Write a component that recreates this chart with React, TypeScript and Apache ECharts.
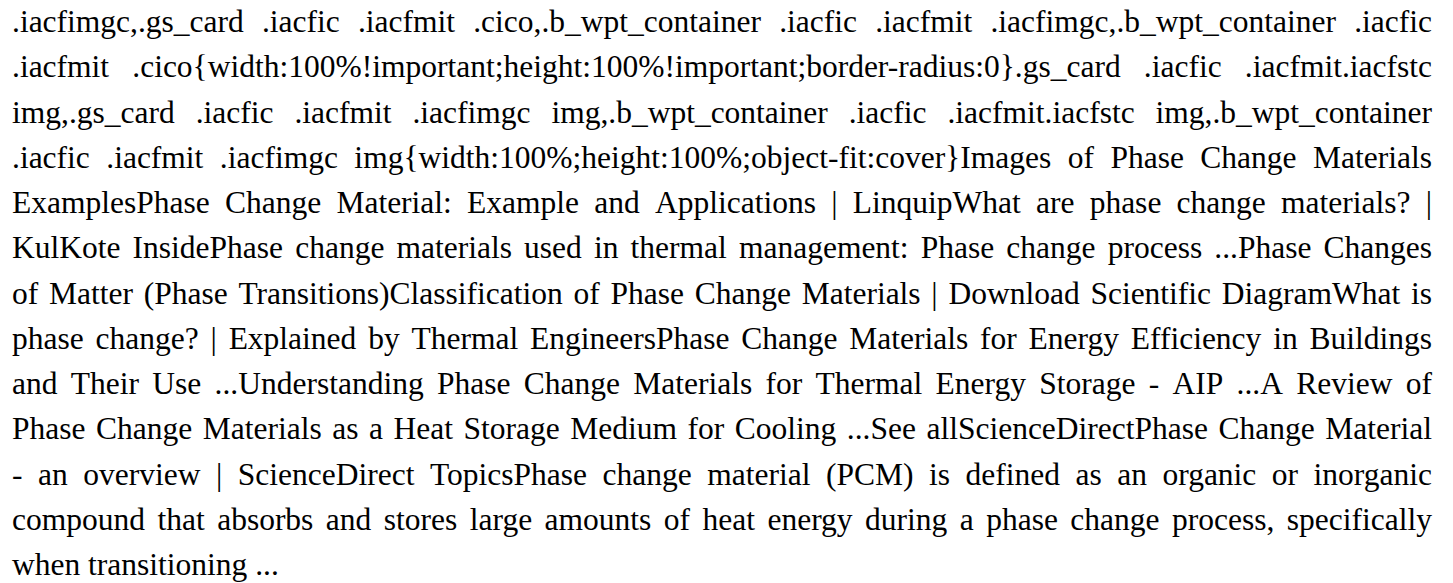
import React, { useEffect, useRef } from "react";
import * as echarts from "echarts";

const lines: string[] = [
  ".iacfimgc,.gs_card .iacfic .iacfmit .cico,.b_wpt_container .iacfic .iacfmit .iacfimgc,.b_wpt_container .iacfic",
  ".iacfmit .cico{width:100%!important;height:100%!important;border-radius:0}.gs_card .iacfic .iacfmit.iacfstc",
  "img,.gs_card .iacfic .iacfmit .iacfimgc img,.b_wpt_container .iacfic .iacfmit.iacfstc img,.b_wpt_container",
  ".iacfic .iacfmit .iacfimgc img{width:100%;height:100%;object-fit:cover}Images of Phase Change Materials",
  "ExamplesPhase Change Material: Example and Applications | LinquipWhat are phase change materials? |",
  "KulKote InsidePhase change materials used in thermal management: Phase change process ...Phase Changes",
  "of Matter (Phase Transitions)Classification of Phase Change Materials | Download Scientific DiagramWhat is",
  "phase change? | Explained by Thermal EngineersPhase Change Materials for Energy Efficiency in Buildings",
  "and Their Use ...Understanding Phase Change Materials for Thermal Energy Storage - AIP ...A Review of",
  "Phase Change Materials as a Heat Storage Medium for Cooling ...See allScienceDirectPhase Change Material",
  "- an overview | ScienceDirect TopicsPhase change material (PCM) is defined as an organic or inorganic",
  "compound that absorbs and stores large amounts of heat energy during a phase change process, specifically",
  "when transitioning ...",
];

const FONT_FAMILY = "Liberation Serif";
const FONT_SIZE = 31.5;
const LEFT = 12;
const RIGHT = 1432;
const FIRST_MID = 21.5;
const LINE_HEIGHT = 45.25;

export default function App() {
  const ref = useRef<HTMLDivElement>(null);
  useEffect(() => {
    if (!ref.current) return;
    const chart = echarts.init(ref.current, null, { renderer: "svg" });
    const ctx = document.createElement("canvas").getContext("2d")!;
    ctx.font = `${FONT_SIZE}px "${FONT_FAMILY}"`;
    const spaceW = ctx.measureText(" ").width;
    const elements: any[] = [];
    lines.forEach((line, i) => {
      const words = line.split(" ");
      const widths = words.map((w) => ctx.measureText(w).width);
      const total = widths.reduce((a, b) => a + b, 0);
      const isLast = i === lines.length - 1;
      const gap =
        isLast || words.length < 2 ? spaceW : (RIGHT - LEFT - total) / (words.length - 1);
      const y = FIRST_MID + i * LINE_HEIGHT;
      let x = LEFT;
      words.forEach((w, j) => {
        elements.push({
          type: "text",
          x,
          y,
          silent: true,
          style: {
            text: w,
            fontSize: FONT_SIZE,
            fontFamily: FONT_FAMILY,
            fill: "#000000",
            align: "left",
            verticalAlign: "middle",
          },
        });
        x += widths[j] + gap;
      });
    });
    chart.setOption({
      animation: false,
      backgroundColor: "#ffffff",
      graphic: { elements },
    });
    return () => chart.dispose();
  }, []);
  return (
    <div
      ref={ref}
      style={{ position: "absolute", left: 0, top: 0, width: 1453, height: 583 }}
    />
  );
}
